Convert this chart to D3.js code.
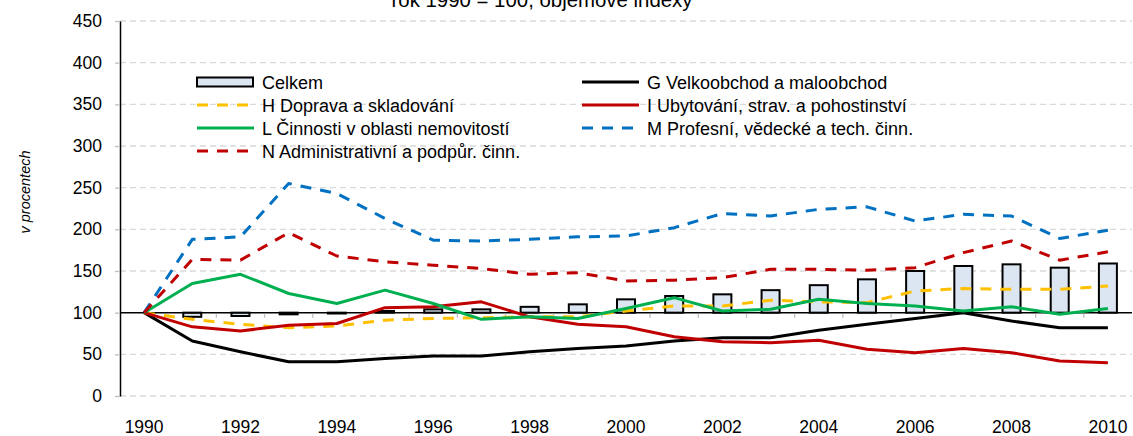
<!DOCTYPE html>
<html>
<head>
<meta charset="utf-8">
<script src="https://cdn.jsdelivr.net/npm/d3@7/dist/d3.min.js"></script>
<style>
  body { margin: 0; background: #fff; }
  svg { display: block; }
</style>
</head>
<body>
<script>

// --- Data (rok 1990 = 100) ---
var years = [1990, 1991, 1992, 1993, 1994, 1995, 1996, 1997, 1998, 1999, 2000,
             2001, 2002, 2003, 2004, 2005, 2006, 2007, 2008, 2009, 2010];

var celkem = [100, 95, 96, 98, 99, 102, 104, 104, 107, 110, 116, 120, 122, 127, 133, 140, 150, 156, 158, 154, 159];

var g_velkoobchod = [100, 66, 53, 41, 41, 45, 48, 48, 53, 57, 60, 66, 70, 70, 79, 86, 93, 100, 90, 82, 82];
var h_doprava     = [100, 92, 86, 82, 84, 91, 93, 94, 95, 95, 102, 108, 108, 115, 113, 112, 126, 129, 128, 128, 132];
var i_ubytovani   = [100, 83, 78, 85, 87, 106, 107, 113, 95, 86, 83, 71, 65, 64, 67, 56, 52, 57, 52, 42, 40];
var l_nemovitosti = [100, 135, 146, 123, 111, 127, 111, 92, 95, 93, 105, 118, 102, 104, 116, 111, 108, 102, 107, 98, 105];
var m_profesni    = [100, 188, 191, 255, 243, 213, 187, 186, 188, 191, 192, 202, 219, 216, 224, 227, 210, 218, 216, 189, 199];
var n_admin       = [100, 164, 163, 196, 168, 161, 157, 153, 146, 148, 138, 139, 142, 152, 152, 151, 154, 172, 186, 163, 173];

var legend_names = ["Celkem",
                    "G Velkoobchod a maloobchod",
                    "H Doprava a skladování",
                    "I Ubytování, strav. a pohostinství",
                    "L Činnosti v oblasti nemovitostí",
                    "M Profesní, vědecké a tech. činn.",
                    "N Administrativní a podpůr. činn."];

var y_ticks = [0, 50, 100, 150, 200, 250, 300, 350, 400, 450];
var x_labels = [1990, 1992, 1994, 1996, 1998, 2000, 2002, 2004, 2006, 2008, 2010];

var title_text = "rok 1990 = 100, objemové indexy",
    y_title = "v procentech";

var series = [g_velkoobchod, h_doprava, i_ubytovani, l_nemovitosti, m_profesni, n_admin];


// --- Styles ---
var line_styles = [
    {col: "#000000", dash: null},
    {col: "#ffc000", dash: "11,9"},
    {col: "#c00000", dash: null},
    {col: "#00b050", dash: null},
    {col: "#0070c0", dash: "11,9"},
    {col: "#c00000", dash: "11,9"}
];

var bar_fill = "#dce6f2",
    grid_col = "#d9d9d9",
    tick_col = "#bfbfbf",
    font = 'Arial, "Liberation Sans", sans-serif';


// --- Canvas ---
var width = 1133,
    height = 436,
    margin = {top: 21, right: 1, bottom: 40, left: 120};

var svg = d3.select("body")
    .append("svg")
    .attr("width", width)
    .attr("height", height);

var xScale = d3.scaleBand()
    .domain(years)
    .range([margin.left, width - margin.right]);

var yScale = d3.scaleLinear()
    .domain([0, 450])
    .range([height - margin.bottom, margin.top]);

var cx = function(d) { return xScale(d) + xScale.bandwidth() / 2; };


// ==== Gridlines ====
svg.append("g")
    .selectAll("line")
    .data(y_ticks.filter(function(d) { return d != 100; }))
    .enter().append("line")
    .attr("x1", margin.left)
    .attr("x2", width - margin.right)
    .attr("y1", function(d) { return yScale(d); })
    .attr("y2", function(d) { return yScale(d); })
    .attr("stroke", grid_col)
    .attr("stroke-width", 1.3)
    .attr("stroke-dasharray", "6,4");


// ==== Y axis ====
var yAxis = svg.append("g")
    .attr("transform", "translate(" + margin.left + ",0)")
    .call(d3.axisLeft(yScale).tickValues(y_ticks).tickSize(5).tickPadding(13).tickSizeOuter(0));

yAxis.select(".domain").attr("stroke", "#000").attr("stroke-width", 1.5);
yAxis.selectAll(".tick line").attr("stroke", tick_col).attr("stroke-width", 1.3);
yAxis.selectAll(".tick text")
    .attr("font-family", font)
    .attr("font-size", "17.5px")
    .attr("fill", "#000");

svg.append("text")
    .text(y_title)
    .attr("transform", "translate(30," + 192 + ") rotate(-90)")
    .attr("text-anchor", "middle")
    .attr("font-family", font)
    .attr("font-size", "14.5px")
    .attr("font-style", "italic")
    .attr("fill", "#000");


// ==== X labels ====
var xAxis = svg.append("g")
    .attr("transform", "translate(0," + yScale(0) + ")")
    .call(d3.axisBottom(xScale).tickValues(x_labels).tickSize(0).tickPadding(24.5));

xAxis.select(".domain").remove();
xAxis.selectAll(".tick text")
    .attr("font-family", font)
    .attr("font-size", "17.5px")
    .attr("fill", "#000");


// ==== Bars (Celkem, floating from 100) ====
var bar_w = 18;

svg.append("g")
    .selectAll("rect")
    .data(years.map(function(d, i) { return {year: d, v: celkem[i]}; }))
    .enter().append("rect")
    .attr("x", function(d) { return cx(d.year) - bar_w / 2; })
    .attr("y", function(d) { return yScale(Math.max(d.v, 100)); })
    .attr("width", bar_w)
    .attr("height", function(d) { return Math.abs(yScale(d.v) - yScale(100)); })
    .attr("fill", bar_fill)
    .attr("stroke", "#000")
    .attr("stroke-width", 2);


// ==== Category axis at 100 ====
svg.append("line")
    .attr("x1", margin.left)
    .attr("x2", width - margin.right)
    .attr("y1", yScale(100))
    .attr("y2", yScale(100))
    .attr("stroke", "#000")
    .attr("stroke-width", 1.5);

svg.append("g")
    .selectAll("line")
    .data(years.slice(1))
    .enter().append("line")
    .attr("x1", function(d) { return xScale(d); })
    .attr("x2", function(d) { return xScale(d); })
    .attr("y1", yScale(100) + 1)
    .attr("y2", yScale(100) + 5)
    .attr("stroke", tick_col)
    .attr("stroke-width", 1.3);


// ==== Lines ====
var line = d3.line()
    .x(function(d) { return cx(d.year); })
    .y(function(d) { return yScale(d.v); });

series.forEach(function(s, k) {
    svg.append("path")
        .datum(years.map(function(d, i) { return {year: d, v: s[i]}; }))
        .attr("d", line)
        .attr("fill", "none")
        .attr("stroke", line_styles[k].col)
        .attr("stroke-width", 3)
        .attr("stroke-dasharray", line_styles[k].dash)
        .attr("stroke-linejoin", "round");
});


// ==== Title ====
svg.append("text")
    .text(title_text)
    .attr("x", 542)
    .attr("y", 7)
    .attr("text-anchor", "middle")
    .attr("font-family", font)
    .attr("font-size", "20.4px")
    .attr("fill", "#000");


// ==== Legend ====
var leg_x = [197, 582],
    leg_y = 82,
    leg_step = 23,
    sym_w = 57;

var legend = svg.append("g");

legend_names.forEach(function(name, k) {
    var col = k % 2,
        row = Math.floor(k / 2),
        x0 = leg_x[col],
        y0 = leg_y + row * leg_step;

    if (k == 0) {
        legend.append("rect")
            .attr("x", x0)
            .attr("y", y0 - 4.5)
            .attr("width", sym_w - 1)
            .attr("height", 9)
            .attr("fill", bar_fill)
            .attr("stroke", "#000")
            .attr("stroke-width", 2);
    } else {
        legend.append("line")
            .attr("x1", x0)
            .attr("x2", x0 + sym_w)
            .attr("y1", y0)
            .attr("y2", y0)
            .attr("stroke", line_styles[k - 1].col)
            .attr("stroke-width", 3)
            .attr("stroke-dasharray", line_styles[k - 1].dash);
    }

    legend.append("text")
        .text(name)
        .attr("x", x0 + sym_w + 8)
        .attr("y", y0 + 6.5)
        .attr("font-family", font)
        .attr("font-size", "18px")
        .attr("fill", "#000");
});

</script>
</body>
</html>
